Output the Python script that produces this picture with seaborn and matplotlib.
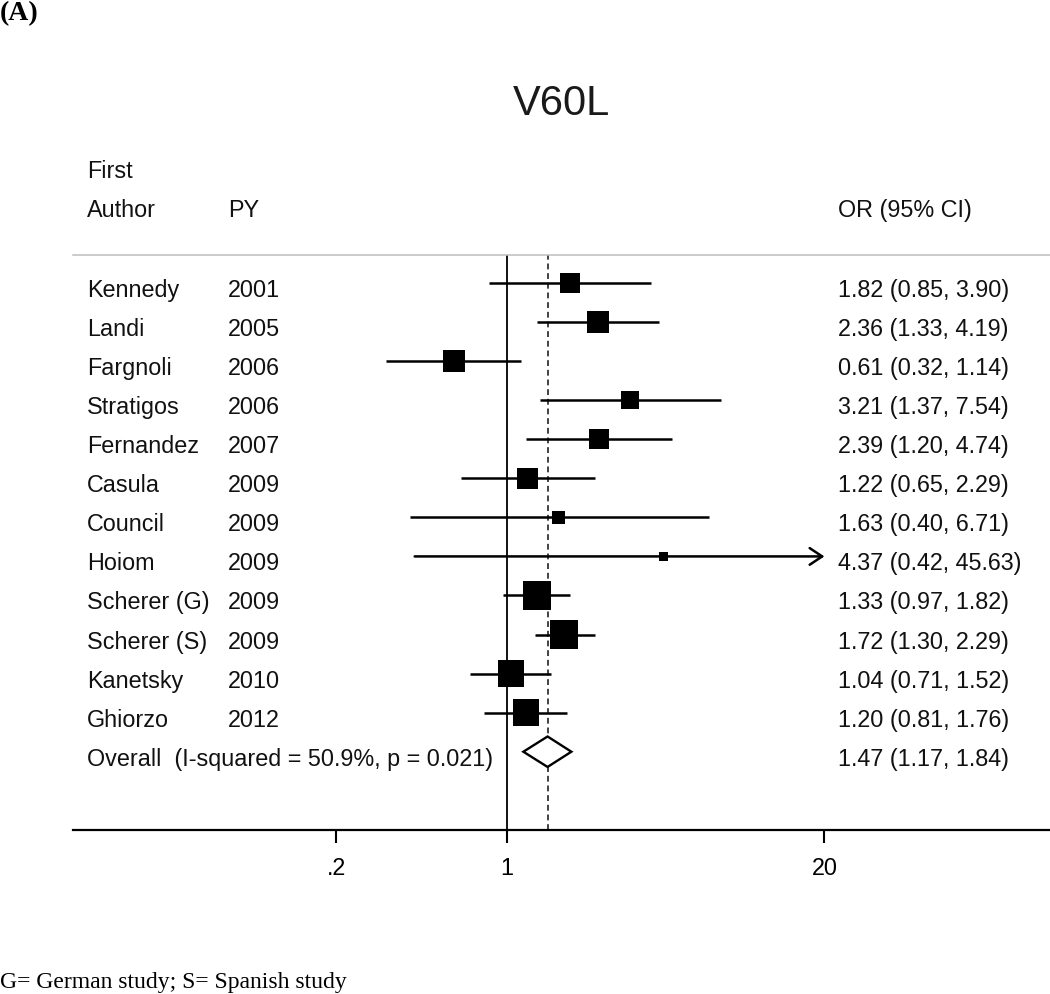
import numpy as np
import pandas as pd
import matplotlib
matplotlib.use("Agg")
import matplotlib.pyplot as plt
import matplotlib.transforms as mtransforms
import seaborn as sns

# ---------------- data ----------------
authors = ["Kennedy", "Landi", "Fargnoli", "Stratigos", "Fernandez", "Casula",
           "Council", "Hoiom", "Scherer (G)", "Scherer (S)", "Kanetsky", "Ghiorzo"]
years = [2001, 2005, 2006, 2006, 2007, 2009, 2009, 2009, 2009, 2009, 2010, 2012]
or_vals = [1.82, 2.36, 0.61, 3.21, 2.39, 1.22, 1.63, 4.37, 1.33, 1.72, 1.04, 1.20]
ci_low = [0.85, 1.33, 0.32, 1.37, 1.20, 0.65, 0.40, 0.42, 0.97, 1.30, 0.71, 0.81]
ci_high = [3.90, 4.19, 1.14, 7.54, 4.74, 2.29, 6.71, 45.63, 1.82, 2.29, 1.52, 1.76]
weights = [6.7, 8.6, 8.1, 5.7, 7.1, 7.8, 2.7, 1.4, 13.6, 13.9, 11.9, 12.5]
overall_or = 1.47
overall_low = 1.17
overall_high = 1.84
i_squared = 50.9
p_het = 0.021
tick_values = [0.2, 1, 20]
tick_labels = [".2", "1", "20"]
title = "V60L"

# ---------------- style ----------------
sns.set_theme(style="white")
plt.rcParams["font.family"] = ["Liberation Sans", "DejaVu Sans"]

W, H = 1050, 995
fig = plt.figure(figsize=(W / 100, H / 100), dpi=100)

# axes geometry (pixels)
ax_left, ax_right = 72.7, 1050
ax_top, ax_bottom = 255.5, 830.7
ax = fig.add_axes([ax_left / W, (H - ax_bottom) / H,
                   (ax_right - ax_left) / W, (ax_bottom - ax_top) / H])

n = len(authors)
rows = np.arange(n)
df = pd.DataFrame({"author": authors, "year": years, "or": or_vals,
                   "lo": ci_low, "hi": ci_high, "w": weights, "row": rows})

ax.set_xscale("log")
x_clip = 20.0  # display range upper limit for CI lines

# reference lines
ax.axvline(1, color="black", lw=1.3, zorder=1)
ax.axvline(overall_or, color="#222222", lw=1.2, ls=(0, (3.5, 2.3)), zorder=1)

# confidence intervals
ci_lw = 1.8
for _, r in df.iterrows():
    hi = min(r["hi"], x_clip)
    if r["hi"] > x_clip:
        ax.annotate("", xy=(hi, r["row"]), xytext=(r["lo"], r["row"]),
                    arrowprops=dict(arrowstyle="->,head_length=0.45,head_width=0.3",
                                    lw=ci_lw, color="black", shrinkA=0, shrinkB=0,
                                    mutation_scale=20),
                    zorder=2)
    else:
        ax.plot([r["lo"], hi], [r["row"], r["row"]], color="black", lw=ci_lw,
                solid_capstyle="butt", zorder=2)

# weight boxes (area proportional to weight)
area_per_w = 30.0
sns.scatterplot(data=df, x="or", y="row", size="w",
                sizes=(area_per_w * min(weights), area_per_w * max(weights)),
                marker="s", color="black", linewidth=0, legend=False,
                ax=ax, zorder=3)

# overall diamond
orow = n
dh = 0.39
ax.fill([overall_low, overall_or, overall_high, overall_or],
        [orow, orow - dh, orow, orow + dh],
        facecolor="white", edgecolor="black", lw=1.7, zorder=4,
        joinstyle="miter")

# axis limits mapped to pixel layout
px_per_ln = 106.06
x_one = 506.7
ax.set_xlim(np.exp((ax_left - x_one) / px_per_ln), np.exp((ax_right - x_one) / px_per_ln))
row0, row_step = 284.0, 39.06
ax.set_ylim((ax_bottom - row0) / row_step, (ax_top - row0) / row_step)

ax.set_xticks(tick_values)
ax.set_xticklabels(tick_labels)
ax.xaxis.set_minor_locator(matplotlib.ticker.NullLocator())
ax.set_yticks([])
ax.set_xlabel("")
ax.set_ylabel("")
ax.tick_params(axis="x", which="major", bottom=True, length=9, width=1.5,
               pad=10, labelsize=16.8, colors="black")
for side in ["left", "right"]:
    ax.spines[side].set_visible(False)
ax.spines["bottom"].set_color("black")
ax.spines["bottom"].set_linewidth(1.6)
ax.spines["top"].set_color("#bdbdbd")
ax.spines["top"].set_linewidth(1.1)

# text columns
fs = 16.8
tc = "#111111"
trans = mtransforms.blended_transform_factory(fig.transFigure, ax.transData)
x_author, x_year, x_or = 87 / W, 228 / W, 838 / W
dy = 13 / row_step
for _, r in df.iterrows():
    y = r["row"] + dy
    ax.text(x_author, y, r["author"], transform=trans, fontsize=fs, color=tc,
            va="baseline", ha="left", clip_on=False)
    ax.text(x_year, y, str(r["year"]), transform=trans, fontsize=fs, color=tc,
            va="baseline", ha="left", clip_on=False)
    ax.text(x_or, y, f"{r['or']:.2f} ({r['lo']:.2f}, {r['hi']:.2f})", transform=trans,
            fontsize=fs, color=tc, va="baseline", ha="left", clip_on=False)

ax.text(x_author, orow + dy, f"Overall  (I-squared = {i_squared:.1f}%, p = {p_het:.3f})",
        transform=trans, fontsize=fs, color=tc, va="baseline", ha="left", clip_on=False)
ax.text(x_or, orow + dy, f"{overall_or:.2f} ({overall_low:.2f}, {overall_high:.2f})",
        transform=trans, fontsize=fs, color=tc, va="baseline", ha="left", clip_on=False)

def fy(px):
    return (H - px) / H

fig.text(x_author, fy(178), "First", fontsize=fs, color=tc, va="baseline", ha="left")
fig.text(x_author, fy(217), "Author", fontsize=fs, color=tc, va="baseline", ha="left")
fig.text(x_year, fy(217), "PY", fontsize=fs, color=tc, va="baseline", ha="left")
fig.text(x_or, fy(217), "OR (95% CI)", fontsize=fs, color=tc, va="baseline", ha="left")

fig.text(561.5 / W, fy(115), title, fontsize=30, color="#1a1a1a",
         va="baseline", ha="center")

fig.text(0.0, fy(20), "(A)", fontsize=20, fontweight="bold", color="black",
         family=["Liberation Serif", "DejaVu Serif"], va="baseline", ha="left")
fig.text(0.0, fy(988), "G= German study; S= Spanish study", fontsize=17, color="black",
         family=["Liberation Serif", "DejaVu Serif"], va="baseline", ha="left")

fig.savefig("out.png", dpi=100, facecolor="white")
